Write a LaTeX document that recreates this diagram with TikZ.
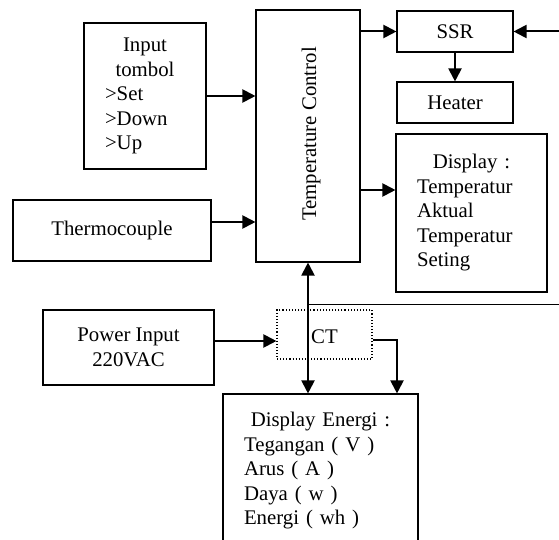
\documentclass[tikz,border=0pt]{standalone}
\usepackage{fontspec}
\setmainfont{Liberation Serif}
\usetikzlibrary{arrows.meta}
\begin{document}
\begin{tikzpicture}[x=1pt,y=-1pt,
  txt/.style={font=\fontsize{20.8}{24.5}\selectfont},
  box/.style={draw, line width=1.1pt, inner sep=0pt, txt},
  tip/.tip={Triangle[length=13pt,width=13pt]},
  conn/.style={line width=2pt, -tip},
]
\useasboundingbox (0,0) rectangle (559,540);
\fill[white] (0,0) rectangle (559,540);

% boxes
\node[box, minimum width=122pt, minimum height=146pt, text width=80pt, inner xsep=21pt, align=left] (in) at (145,96)
  {\makebox[\linewidth]{Input}\\\makebox[\linewidth]{tombol}\\>Set\\>Down\\>Up};
\node[box, minimum width=198pt, minimum height=61pt] (th) at (112,230.5) {Thermocouple};
\node[box, minimum width=104pt, minimum height=252pt] (tc) at (308,136) {};
\node[txt, rotate=90] (tct) at (311,134) {Temperature Control};
\node[box, minimum width=116pt, minimum height=41pt] (ssr) at (455,31.5) {SSR};
\node[box, minimum width=116pt, minimum height=41pt] (heat) at (455,102.5) {Heater};
\node[box, minimum width=151pt, minimum height=158pt, text width=109pt, inner xsep=21pt, align=left] (disp) at (471.5,213)
  {\makebox[\linewidth]{Display :}\\Temperatur\\Aktual\\Temperatur\\Seting};
\node[box, minimum width=171pt, minimum height=75pt, align=center] (pw) at (128.5,347.5) {Power Input\\220VAC};
\node[box, dotted, minimum width=95pt, minimum height=49pt] (ct) at (324.5,334.5) {};
\node[txt] (ctt) at (324.5,337) {CT};
\node[box, minimum width=195pt, minimum height=154pt, text width=153pt, inner xsep=21pt, align=left] (de) at (320.5,471)
  {\makebox[\linewidth]{Display Energi :}\\Tegangan ( V )\\Arus ( A )\\Daya ( w )\\Energi ( wh )};

% connectors
\draw[conn] (in.east) -- (in.east -| tc.west);
\coordinate (thA) at ([yshift=8.5pt]th.east);
\draw[conn] (thA) -- (thA -| tc.west);
\draw[conn] (ssr.west -| tc.east) -- (ssr.west);
\coordinate (pin) at (559,31.5);
\draw[conn] (pin) -- (ssr.east);
\draw[conn] (ssr.south) -- (heat.north);
\coordinate (dA) at ([yshift=23pt]disp.west);
\draw[conn] (dA -| tc.east) -- (dA);
\draw[line width=2pt, tip-tip] (tc.south) -- (tc.south |- de.north);
\coordinate (lineEnd) at (559,304);
\draw[line width=1pt] (tc.south |- lineEnd) -- (lineEnd);
\coordinate (pA) at ([yshift=6.5pt]pw.east);
\draw[conn] (pA) -- (pA -| ct.west);
\coordinate (cA) at ([yshift=-5.5pt]ct.east);
\coordinate (cB) at ([xshift=76.5pt]de.north);
\draw[conn] (cA) -| (cB);
\end{tikzpicture}
\end{document}
